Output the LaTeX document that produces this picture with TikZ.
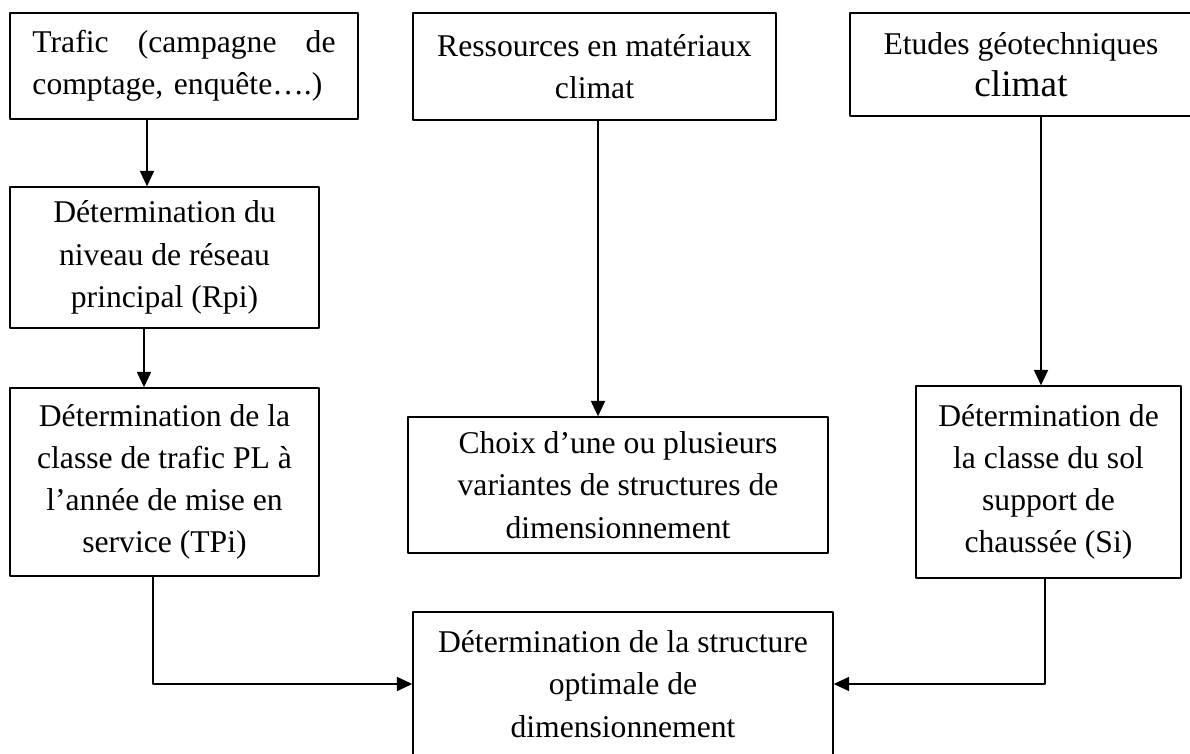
\documentclass[tikz,border=0pt]{standalone}
\usepackage{fontspec}
\setmainfont{Liberation Serif}
\usetikzlibrary{arrows.meta}
\begin{document}
\begin{tikzpicture}[x=0.025cm, y=-0.025cm, line cap=round, line join=round, font=\fontsize{22.5}{30}\selectfont, >={Triangle[length=11pt,width=10pt]}]
	\tikzset{boite/.style={draw, line width=0.9pt, align=center, inner sep=0pt}}
	\tikzset{fleche/.style={->, line width=1.2pt}}
	\clip (0,0) rectangle (1190,754);
	\node[boite, minimum width=8.7cm, minimum height=2.65cm, text width=7.575cm, align=left] (trafic) at (184,66) {Trafic\hfill(campagne\hfill de\\comptage, enquête….)};
	\node[boite, minimum width=9.075cm, minimum height=2.675cm] (ressources) at (594.5,66.5) {Ressources en matériaux\\climat};
	\node[boite, minimum width=8.55cm, minimum height=2.575cm] (etudes) at (1021,64.5) {Etudes géotechniques\\{\fontsize{26.5}{30}\selectfont climat}};
	\node[boite, minimum width=7.725cm, minimum height=3.525cm] (reseau) at (164.5,257.5) {Détermination du\\niveau de réseau\\principal (Rpi)};
	\node[boite, minimum width=7.725cm, minimum height=4.7cm] (classe) at (164.5,482) {Détermination de la\\classe de trafic PL à\\l’année de mise en\\service (TPi)};
	\node[boite, minimum width=10.5cm, minimum height=3.4cm] (choix) at (618,485) {Choix d’une ou plusieurs\\variantes de structures de\\dimensionnement};
	\node[boite, minimum width=6.625cm, minimum height=4.8cm] (sol) at (1048.5,482) {Détermination de\\la classe du sol\\support de\\chaussée (Si)};
	\node[boite, minimum width=10.5cm, minimum height=3.6cm] (optimale) at (623,684) {Détermination de la structure\\optimale de\\dimensionnement};
	\coordinate (xa) at (147,0);
	\coordinate (xb) at (144,0);
	\coordinate (xc) at (153,0);
	\coordinate (xd) at (598,0);
	\coordinate (xe) at (1041,0);
	\coordinate (xf) at (1045,0);
	\draw[fleche] (trafic.south -| xa) -- (reseau.north -| xa);
	\draw[fleche] (reseau.south -| xb) -- (classe.north -| xb);
	\draw[fleche] (ressources.south -| xd) -- (choix.north -| xd);
	\draw[fleche] (etudes.south -| xe) -- (sol.north -| xe);
	\draw[fleche] (classe.south -| xc) |- (optimale.west);
	\draw[fleche] (sol.south -| xf) |- (optimale.east);
\end{tikzpicture}
\end{document}
